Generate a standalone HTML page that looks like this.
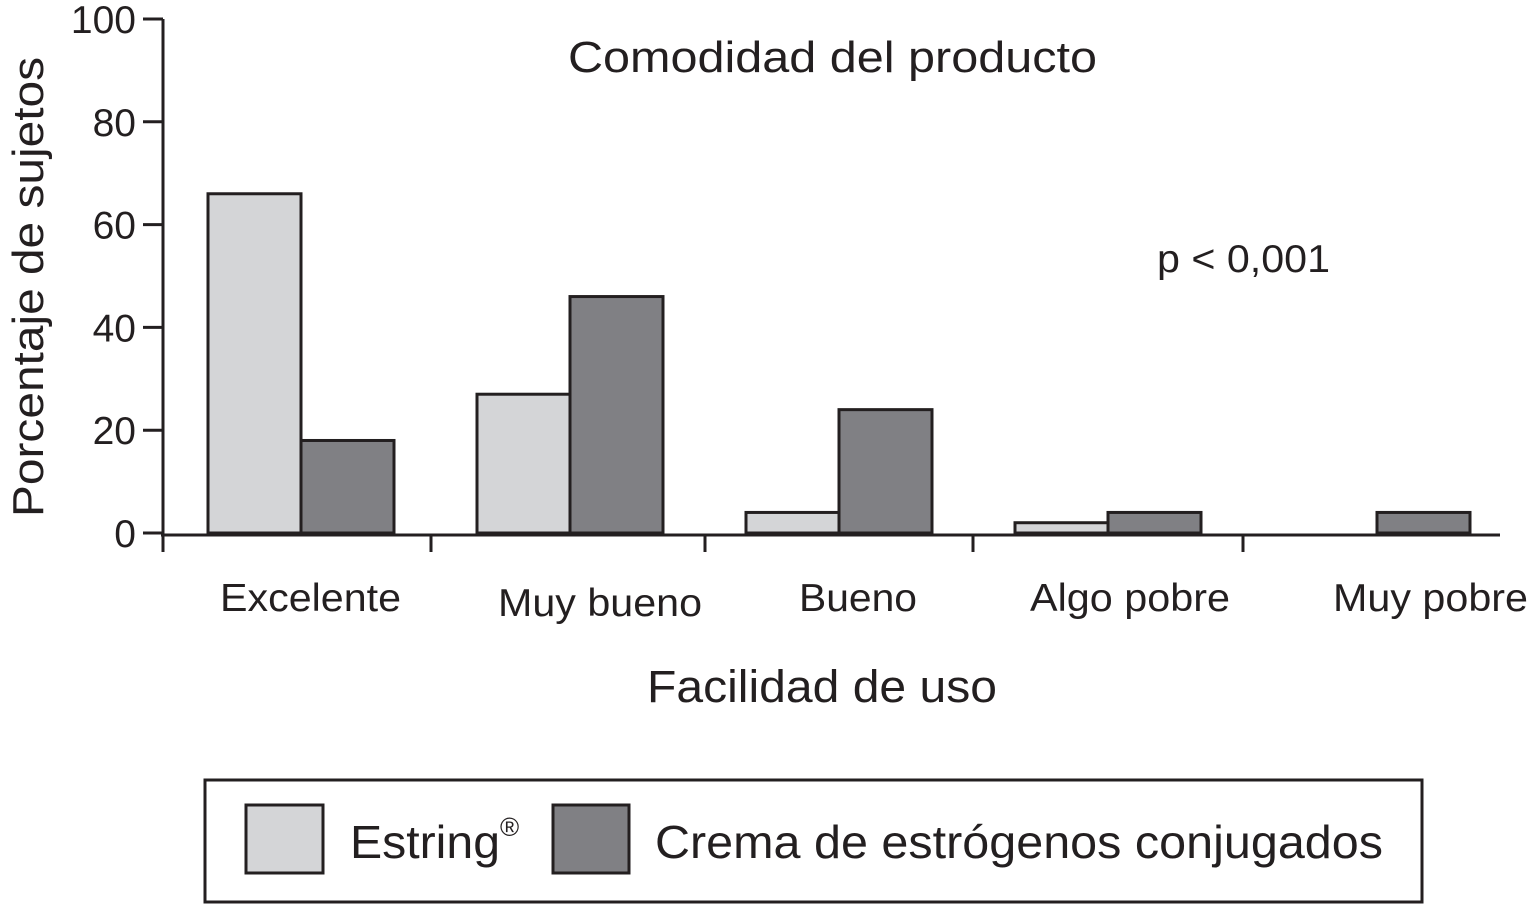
<!DOCTYPE html>
<html><head><meta charset="utf-8"><style>
body{margin:0;background:#fff}
svg{display:block;font-family:"Liberation Sans",Arial,sans-serif;fill:#231f20}
</style></head><body>
<svg id="chart" width="1529" height="905" viewBox="0 0 1529 905">
<g id="bars"></g>
<g id="axes"></g>
<text x="568" y="72" font-size="44" textLength="529" lengthAdjust="spacingAndGlyphs">Comodidad del producto</text>
<text x="1157" y="272" font-size="39" textLength="173" lengthAdjust="spacingAndGlyphs">p &lt; 0,001</text>
<text transform="translate(43,287) rotate(-90)" x="-230" y="0" font-size="44" textLength="460" lengthAdjust="spacingAndGlyphs">Porcentaje de sujetos</text>
<text x="647" y="702" font-size="45" textLength="350" lengthAdjust="spacingAndGlyphs">Facilidad de uso</text>
<g>
<rect x="205" y="780" width="1217" height="122" fill="none" stroke="#231f20" stroke-width="3"/>
<rect x="246" y="805" width="77" height="68" fill="#d4d5d7" stroke="#231f20" stroke-width="3"/>
<text x="350" y="858" font-size="46" textLength="150" lengthAdjust="spacingAndGlyphs">Estring</text>
<text x="500" y="836" font-size="26">®</text>
<rect x="553" y="805" width="76" height="68" fill="#808084" stroke="#231f20" stroke-width="3"/>
<text x="655" y="858" font-size="46" textLength="728" lengthAdjust="spacingAndGlyphs">Crema de estrógenos conjugados</text>
</g>
</svg>
<script>
const categories=["Excelente","Muy bueno","Bueno","Algo pobre","Muy pobre"];
const estring=[66,27,4,2,0];
const crema=[18,46,24,4,4];
const yTicks=[0,20,40,60,80,100];
const NS="http://www.w3.org/2000/svg";
const y0=533,yTop=19,ymax=100;
function yS(v){return y0-(y0-yTop)*v/ymax;}
const groupStart=301,groupStep=269,bw=93;
function xC(i){return groupStart+i*groupStep;}
const labelX=[220,498,799,1030,1333],labelW=[181,204,118,200,195],labelY=[611,616,611,611,611];
function mk(t,a,p){const e=document.createElementNS(NS,t);for(const k in a)e.setAttribute(k,a[k]);p.appendChild(e);return e;}
const bars=document.getElementById('bars'),axes=document.getElementById('axes');
categories.forEach((c,i)=>{
  const cx=xC(i);
  if(estring[i]>0){
    const r=mk('rect',{x:cx-bw,y:yS(estring[i]),width:bw,height:y0-yS(estring[i]),fill:'#d4d5d7',stroke:'#231f20','stroke-width':3},bars);
    
    
  }
  const r2=mk('rect',{x:cx,y:yS(crema[i]),width:bw,height:y0-yS(crema[i]),fill:'#808084',stroke:'#231f20','stroke-width':3},bars);
  
  
  const t=mk('text',{x:labelX[i],y:labelY[i],'font-size':39,textLength:labelW[i],lengthAdjust:'spacingAndGlyphs'},axes);
  t.textContent=c;
  
  
});
mk('line',{x1:163,y1:yTop,x2:163,y2:535,stroke:'#231f20','stroke-width':3},axes);
mk('line',{x1:161,y1:535,x2:1500,y2:535,stroke:'#231f20','stroke-width':3},axes);
[163,431,705,973,1243].forEach(x=>mk('line',{x1:x,y1:535,x2:x,y2:552,stroke:'#231f20','stroke-width':3},axes));
yTicks.forEach(v=>{
  mk('line',{x1:143,y1:yS(v),x2:163,y2:yS(v),stroke:'#231f20','stroke-width':3},axes);
  const t=mk('text',{x:136,y:yS(v)+14,'font-size':39,'text-anchor':'end'},axes);
  t.textContent=v;
  
  
});
</script>
</body></html>
